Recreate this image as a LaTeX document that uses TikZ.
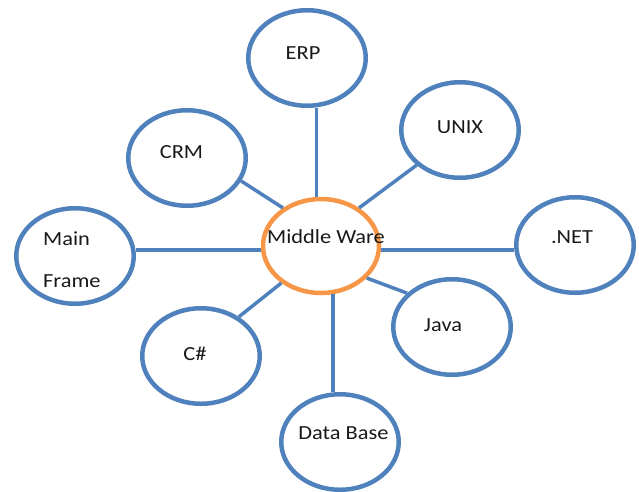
\documentclass[tikz,border=0pt]{standalone}
\usepackage{fontspec}
\setmainfont{Carlito}[FakeStretch=1.12]
\usetikzlibrary{shapes.geometric}
\definecolor{ringblue}{HTML}{4F81BD}
\definecolor{ringorange}{HTML}{F79646}
\tikzset{
  ring/.style={ellipse, draw=ringblue, line width=4.5pt, minimum width=117.5pt, minimum height=95.5pt, inner sep=0pt},
  hub/.style={ellipse, draw=ringorange, line width=4.5pt, minimum width=116pt, minimum height=94pt, inner sep=0pt},
  link/.style={draw=ringblue, line width=3.5pt},
  lab/.style={anchor=base, inner sep=0pt, font=\fontsize{20}{24}\selectfont, text=black!90},
  labl/.style={lab, anchor=base west}
}
\begin{document}
\begin{tikzpicture}[x=1pt,y=-1pt]
\useasboundingbox (0,0) rectangle (639,491);
% connectors first (under the rings)
\node[hub] (mw) at (321,246) {};
\node[ring] (erp) at (307,58) {};
\node[ring] (crm) at (187,158) {};
\node[ring] (unix) at (460,130) {};
\node[ring] (mf) at (75,256) {};
\node[ring] (net) at (575,245) {};
\node[ring] (java) at (452,327) {};
\node[ring] (cs) at (201,356) {};
\node[ring] (db) at (340,442) {};
\path[link] (mw.95) -- (mw.95 |- erp.south);
\path[link] (crm.-23.6) -- (mw.135.7);
\path[link] (unix.219.4) -- (mw.45);
\path[link] (mw.184) -- (mw.184 -| mf.east);
\path[link] (mw.-4) -- (mw.-4 -| net.west);
\path[link] (java.143.7) -- (mw.-35.1);
\path[link] (cs.46.4) -- (mw.223.6);
\path[link] (mw.-76) -- (mw.-76 |- db.north);
% labels
\node[lab] (erpt) at (303,59) {ERP};
\node[lab] (crmt) at (181.5,158) {CRM};
\node[lab] (unixt) at (460,133) {UNIX};
\node[labl] (mft1) at (43,245) {Main};
\node[labl] (mft2) at (43,287) {Frame};
\node[lab] (nett) at (572,243) {.NET};
\node[lab] (mwt) at (326,243) {Middle Ware};
\node[lab] (javat) at (443,331) {Java};
\node[lab] (cst) at (195,360) {C\#};
\node[lab] (dbt) at (343.5,439) {Data Base};
\end{tikzpicture}
\end{document}
